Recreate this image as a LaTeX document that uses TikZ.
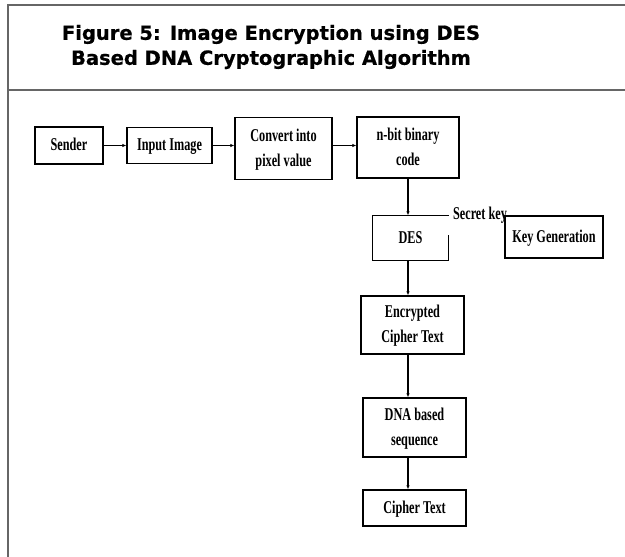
\documentclass[tikz,border=0pt]{standalone}
\usepackage{fontspec}
\setmainfont{Liberation Serif}
\newfontfamily\headfont{DejaVu Sans}[BoldFeatures={FakeBold=0.6}]
\usepackage{graphicx}
\usepackage{tikz}
\usetikzlibrary{arrows.meta, positioning}

\newcommand{\boxtext}[1]{\scalebox{0.68}[1]{\begin{tabular}{@{}c@{}}#1\end{tabular}}}

\begin{document}
\begin{tikzpicture}[
  x=1pt, y=-1pt,
  >={Latex[length=4pt,width=3.5pt]},
  block/.style={draw, line width=1.4pt, align=center, inner sep=0pt,
    font=\fontsize{18}{25}\selectfont\bfseries},
  flow/.style={->, line width=1.2pt},
  frame/.style={draw=black!60, line width=1.3pt}]
\useasboundingbox (0,0) rectangle (625,557);
\draw[frame] (625,5) -- (8,5) -- (8,557);
\draw[frame] (8,90) -- (625,90);
\node[font=\headfont\fontsize{19.5}{25}\selectfont\bfseries, align=center] (title) at (271,47)
  {Figure 5: Image Encryption using DES\\Based DNA Cryptographic Algorithm};
\node[block, minimum width=68, minimum height=37] (sender) at (69,145.5) {\boxtext{Sender}};
\node[block, minimum width=85, minimum height=36] (input) at (169.5,145.5) {\boxtext{Input Image}};
\node[block, minimum width=97, minimum height=62] (convert) at (283.5,148.5) {\boxtext{Convert into\\pixel value}};
\node[block, minimum width=102, minimum height=61] (nbit) at (408,147.5) {\boxtext{n-bit binary\\code}};
\node[block, draw=none, minimum width=75, minimum height=44] (des) at (410.5,238) {\boxtext{DES}};
\node[block, minimum width=98, minimum height=42] (keygen) at (554,237) {\boxtext{Key Generation}};
\node[block, minimum width=103, minimum height=58] (enc) at (412.5,325) {\boxtext{Encrypted\\Cipher Text}};
\node[block, minimum width=103, minimum height=59] (dna) at (414.5,427.5) {\boxtext{DNA based\\sequence}};
\node[block, minimum width=103, minimum height=36] (cipher) at (414.5,508) {\boxtext{Cipher Text}};
\node[block, draw=none] (secret) at (480,214) {\boxtext{Secret key}};
\draw[line width=1.4pt] ([yshift=-20pt]des.north east) -- (des.south east) -- (des.south west)
  -- (des.north west) -- (des.north east);
\draw[flow] (sender) -- (input);
\draw[flow] (input.east |- sender.east) -- (convert.west |- sender.east);
\draw[flow] (convert.east |- sender.east) -- (nbit.west |- sender.east);
\draw[flow] (nbit.south) -- (nbit.south |- des.north);
\draw[flow] (des.south -| nbit.south) -- (enc.north -| nbit.south);
\draw[flow] (enc.south -| nbit.south) -- (dna.north -| nbit.south);
\draw[flow] (dna.south -| nbit.south) -- (cipher.north -| nbit.south);
\end{tikzpicture}
\end{document}
